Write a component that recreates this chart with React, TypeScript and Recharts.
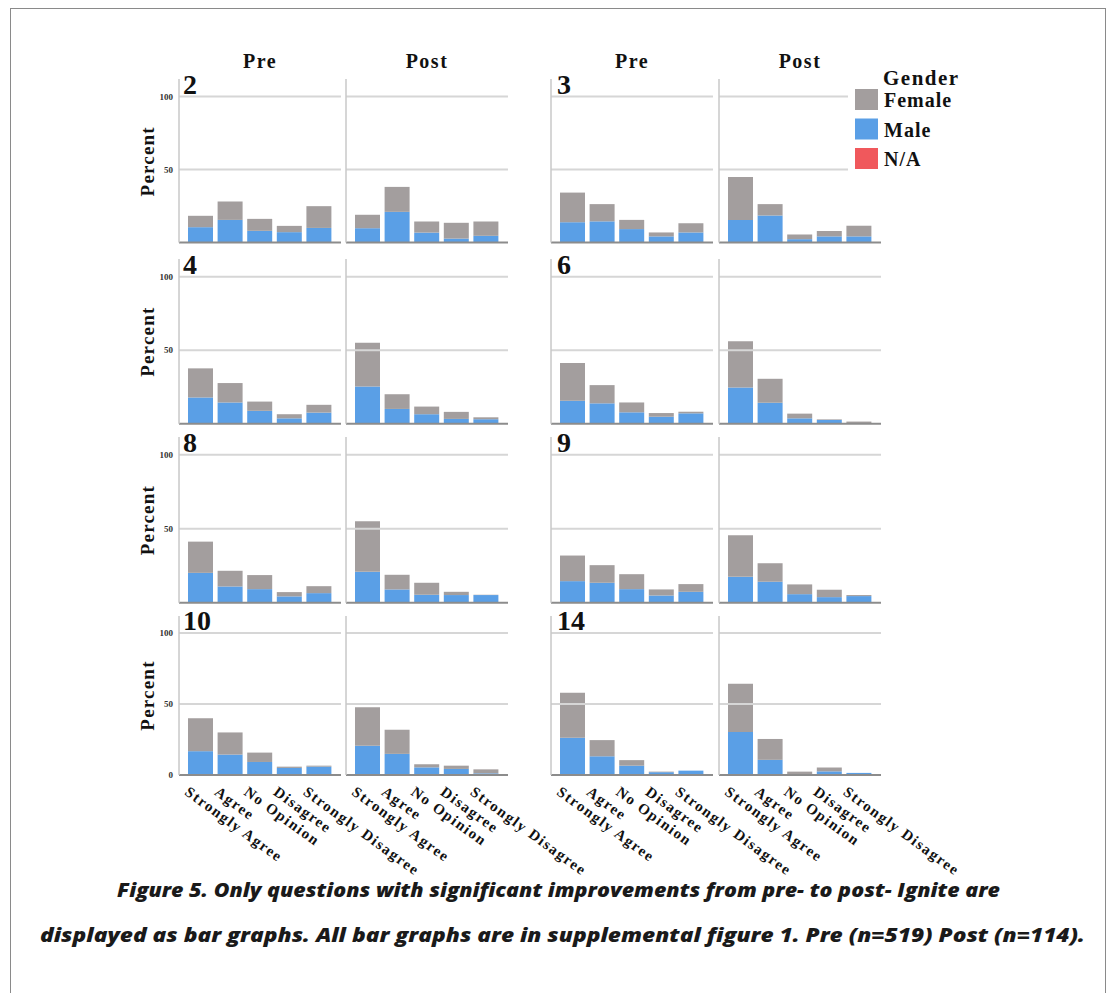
import { BarChart, Bar, XAxis, YAxis, ReferenceLine } from 'recharts';

const categories = ['Strongly Agree', 'Agree', 'No Opinion', 'Disagree', 'Strongly Disagree'];
const yTicks = [0, 50, 100];
const gridValues = [50, 100];
const naShare = [0, 0, 0, 0, 0];

const q2PreMale = [10.5, 15.5, 8.0, 7.1, 10.0];
const q2PreFemale = [7.8, 12.6, 8.2, 4.3, 14.9];
const q2PostMale = [9.8, 21.0, 6.8, 2.7, 4.6];
const q2PostFemale = [9.2, 17.1, 7.6, 10.8, 9.8];

const q3PreMale = [13.9, 14.5, 9.2, 4.2, 6.9];
const q3PreFemale = [20.3, 11.8, 6.3, 2.7, 6.3];
const q3PostMale = [15.5, 18.5, 2.3, 4.2, 4.2];
const q3PostFemale = [29.3, 7.8, 3.2, 3.7, 7.3];

const q4PreMale = [17.8, 14.4, 8.7, 3.6, 7.5];
const q4PreFemale = [19.8, 13.2, 6.3, 2.8, 5.3];
const q4PostMale = [25.3, 10.0, 6.4, 3.2, 3.0];
const q4PostFemale = [29.8, 10.0, 5.2, 4.8, 1.3];

const q6PreMale = [15.6, 13.8, 7.7, 4.7, 7.0];
const q6PreFemale = [25.7, 12.4, 6.7, 2.5, 1.1];
const q6PostMale = [24.6, 14.2, 3.6, 2.5, 0.4];
const q6PostFemale = [31.4, 16.3, 3.2, 0.4, 1.0];

const q8PreMale = [20.2, 11.0, 9.2, 4.3, 6.5];
const q8PreFemale = [21.1, 10.6, 9.5, 2.9, 4.7];
const q8PostMale = [20.9, 9.0, 5.4, 5.2, 5.2];
const q8PostFemale = [34.2, 9.9, 8.1, 2.2, 0.2];

const q9PreMale = [14.6, 13.5, 9.2, 4.9, 7.4];
const q9PreFemale = [17.3, 11.9, 10.1, 4.1, 5.2];
const q9PostMale = [17.5, 14.2, 5.8, 3.8, 4.5];
const q9PostFemale = [28.1, 12.5, 6.6, 5.0, 0.7];

const q10PreMale = [16.8, 14.4, 9.2, 5.0, 5.9];
const q10PreFemale = [23.2, 15.6, 6.6, 0.9, 0.7];
const q10PostMale = [20.6, 14.9, 5.4, 4.3, 1.2];
const q10PostFemale = [27.2, 17.0, 2.2, 2.3, 2.8];

const q14PreMale = [26.3, 13.2, 6.6, 2.0, 3.1];
const q14PreFemale = [31.6, 11.4, 3.9, 0.4, 0];
const q14PostMale = [30.3, 10.7, 0, 2.6, 1.5];
const q14PostFemale = [34.0, 14.7, 2.4, 2.7, 0];

const questions = [
  { label: '2', row: 0, group: 0, pre: [q2PreMale, q2PreFemale], post: [q2PostMale, q2PostFemale] },
  { label: '3', row: 0, group: 1, pre: [q3PreMale, q3PreFemale], post: [q3PostMale, q3PostFemale] },
  { label: '4', row: 1, group: 0, pre: [q4PreMale, q4PreFemale], post: [q4PostMale, q4PostFemale] },
  { label: '6', row: 1, group: 1, pre: [q6PreMale, q6PreFemale], post: [q6PostMale, q6PostFemale] },
  { label: '8', row: 2, group: 0, pre: [q8PreMale, q8PreFemale], post: [q8PostMale, q8PostFemale] },
  { label: '9', row: 2, group: 1, pre: [q9PreMale, q9PreFemale], post: [q9PostMale, q9PostFemale] },
  { label: '10', row: 3, group: 0, pre: [q10PreMale, q10PreFemale], post: [q10PostMale, q10PostFemale] },
  { label: '14', row: 3, group: 1, pre: [q14PreMale, q14PreFemale], post: [q14PostMale, q14PostFemale] },
];

const FEMALE = '#a39e9e';
const MALE = '#5a9fe6';
const NA = '#f0585c';
const SERIF = '"Liberation Serif", "Times New Roman", Tinos, serif';

// layout (page pixels)
const rowBase = [243, 424, 603, 775];
const rowUnit = [1.46, 1.47, 1.48, 1.42];
const groupLeft = [[179, 346], [551, 719]];
const PLOT_W = 162;
const Y_MAX = 112;

const CatTick = (props: any) => {
  const { x, y, payload } = props;
  const ax = x - 17;
  const ay = y + 11;
  return (
    <text x={ax} y={ay} transform={`rotate(36, ${ax}, ${ay})`} textAnchor="start"
      fontFamily={SERIF} fontWeight={700} fontSize={15} letterSpacing={1.5} fill="#111">
      {payload.value}
    </text>
  );
};

function Panel({ male, female, left, base, unit, showTicks, bottom }: any) {
  const data = categories.map((c, i) => ({ cat: c, male: male[i], female: female[i], na: naShare[i] }));
  const plotH = Y_MAX * unit;
  const yW = showTicks ? 30 : 1;
  const xH = bottom ? 110 : 1;
  const extraRight = bottom ? 170 : 0;
  return (
    <div style={{ position: 'absolute', left: left - yW, top: base - plotH }}>
      <BarChart width={yW + PLOT_W + extraRight} height={plotH + xH} data={data}
        margin={{ top: 0, right: extraRight, bottom: 0, left: 0 }} barSize={25}>
        <XAxis dataKey="cat" interval={0} height={xH} padding={{ left: 7, right: 7 }}
          tickLine={false} axisLine={{ stroke: '#8c8c8c', strokeWidth: 2 }}
          tick={bottom ? CatTick : false} />
        <YAxis domain={[0, Y_MAX]} ticks={yTicks} width={yW} tickLine={false} tickMargin={0}
          axisLine={{ stroke: '#c8c8c8', strokeWidth: 1.5 }}
          tick={showTicks ? { fontSize: 9, fill: '#333', fontFamily: SERIF, fontWeight: 700 } : false} />
        {gridValues.map(v => (
          <ReferenceLine key={v} y={v} stroke="#d6d6d6" strokeWidth={2} />
        ))}
        <Bar dataKey="male" stackId="g" fill={MALE} isAnimationActive={false} />
        <Bar dataKey="female" stackId="g" fill={FEMALE} isAnimationActive={false} />
        <Bar dataKey="na" stackId="g" fill={NA} isAnimationActive={false} />
      </BarChart>
    </div>
  );
}

const legendItems = [
  { name: 'Female', color: FEMALE },
  { name: 'Male', color: MALE },
  { name: 'N/A', color: NA },
];

export default function App() {
  return (
    <div style={{ position: 'absolute', left: 0, top: 0, width: 1115, height: 993, background: '#fff', overflow: 'hidden' }}>
      <div style={{ position: 'absolute', left: 10, top: 8, width: 1094, height: 990, border: '1px solid #8a8a8a', borderBottom: 'none' }} />

      {questions.map(q => {
        const base = rowBase[q.row];
        const unit = rowUnit[q.row];
        const [preL, postL] = groupLeft[q.group];
        const bottom = q.row === 3;
        return (
          <div key={q.label}>
            <Panel male={q.pre[0]} female={q.pre[1]} left={preL} base={base} unit={unit}
              showTicks={q.group === 0} bottom={bottom} />
            <Panel male={q.post[0]} female={q.post[1]} left={postL} base={base} unit={unit}
              showTicks={false} bottom={bottom} />
          </div>
        );
      })}

      <svg width={1115} height={993} style={{ position: 'absolute', left: 0, top: 0, pointerEvents: 'none' }}>
        {groupLeft.map((g, gi) => (
          <g key={gi}>
            <text x={g[0] + PLOT_W / 2} y={68} textAnchor="middle" fontFamily={SERIF} fontWeight={700} fontSize={20} letterSpacing={1.5} fill="#111">Pre</text>
            <text x={g[1] + PLOT_W / 2} y={68} textAnchor="middle" fontFamily={SERIF} fontWeight={700} fontSize={20} letterSpacing={1.5} fill="#111">Post</text>
          </g>
        ))}
        {questions.map(q => {
          const base = rowBase[q.row];
          const unit = rowUnit[q.row];
          const x = groupLeft[q.group][0] + (q.group === 0 ? 4 : 6);
          return (
            <text key={q.label} x={x} y={base - 100 * unit - 3} fontFamily={SERIF} fontWeight={700} fontSize={28} fill="#111">{q.label}</text>
          );
        })}
        {rowBase.map((b, ri) => {
          const cy = b - (Y_MAX * rowUnit[ri]) / 2;
          return (
            <text key={ri} x={154} y={cy} transform={`rotate(-90, 154, ${cy})`} textAnchor="middle"
              fontFamily={SERIF} fontWeight={700} fontSize={19} letterSpacing={1.2} fill="#111">Percent</text>
          );
        })}
        <rect x={848} y={66} width={130} height={108} fill="#fff" />
        <text x={883} y={85} fontFamily={SERIF} fontWeight={700} fontSize={21} letterSpacing={1.5} fill="#111">Gender</text>
        {legendItems.map((it, i) => (
          <g key={it.name}>
            <rect x={855} y={89 + i * 29.5} width={23} height={21} fill={it.color} />
            <text x={884} y={107 + i * 29.5} fontFamily={SERIF} fontWeight={700} fontSize={20} letterSpacing={1} fill="#111">{it.name}</text>
          </g>
        ))}
        <text x={117} y={897} textLength={883} lengthAdjust="spacingAndGlyphs"
          fontFamily='"Open Sans", sans-serif' fontStyle="italic" fontWeight={800} fontSize={20} fill="#1a1a1a">
          Figure 5. Only questions with significant improvements from pre- to post- Ignite are
        </text>
        <text x={40} y={942} textLength={1045} lengthAdjust="spacingAndGlyphs"
          fontFamily='"Open Sans", sans-serif' fontStyle="italic" fontWeight={800} fontSize={20} fill="#1a1a1a">
          displayed as bar graphs. All bar graphs are in supplemental figure 1. Pre (n=519) Post (n=114).
        </text>
      </svg>
    </div>
  );
}
